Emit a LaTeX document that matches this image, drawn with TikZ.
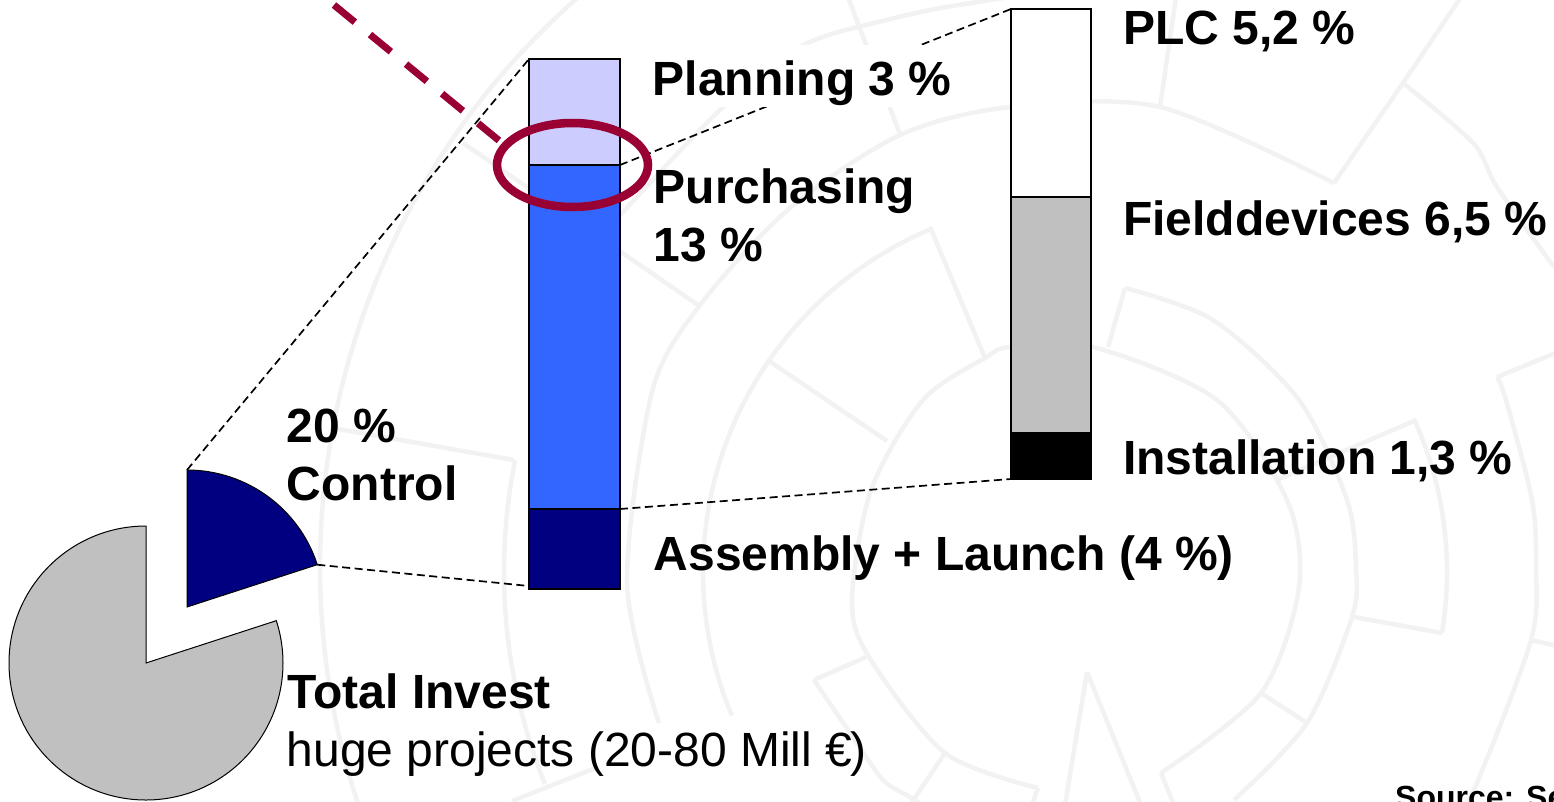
\documentclass[tikz,border=0pt]{standalone}
\usepackage{fontspec}
\setmainfont{Liberation Sans}
\usetikzlibrary{shapes.geometric}
\definecolor{wmgray}{HTML}{F2F2F2}
\definecolor{navybar}{HTML}{000080}
\definecolor{purplebar}{HTML}{CCCCFF}
\definecolor{bluebar}{HTML}{3366FF}
\definecolor{greybar}{HTML}{C0C0C0}
\definecolor{wine}{HTML}{990033}
\tikzset{
  wm/.style={draw=wmgray,line width=4.5pt,line join=miter},
  barbox/.style={draw=black,line width=1.2pt,inner sep=0pt,outer sep=0pt,anchor=north west,minimum width=#1},
  link/.style={draw=black,line width=1.7pt,dash pattern=on 8pt off 4.5pt},
  pieface/.style={draw=black,line width=1pt,line join=miter},
  big/.style={font=\fontsize{48}{57.6}\selectfont\bfseries,anchor=base west,inner sep=0pt},
  plain/.style={font=\fontsize{48}{57.6}\selectfont,anchor=base west,inner sep=0pt},
  srctext/.style={font=\fontsize{32}{38}\selectfont\bfseries,anchor=base west,inner sep=0pt}
}
\newcommand{\wmarc}[5]{\draw[wm] plot[domain=#4:#5,samples=60,smooth] ({#1+#3*cos(\x)},{#2+#3*sin(\x)});}
\begin{document}
\begin{tikzpicture}[x=1pt,y=-1pt]
\useasboundingbox (0,0) rectangle (1554,801);
\clip (0,0) rectangle (1554,801);
% watermark
\wmarc{1078}{567}{758}{161.9}{229}
\wmarc{1075}{572}{571}{158.2}{191.3}
\wmarc{1075}{572}{372}{157.3}{247.2}
\wmarc{1075}{572}{372}{-24}{9.4}
\draw[wm] plot[smooth] coordinates {(659,723)(627,583)(652,392)(700,305)(790,208)(900,135)(1010,107)(1160,107)(1334,183)};
\draw[wm] plot[smooth] coordinates {(1161,773)(1261,693)(1299,587)(1287,500)(1217,400)(1093,347)(1010,347)(985,358)(923,400)(871,490)(852,600)(869,657)(945,753)(1038,788)};
\draw[wm] plot[smooth] coordinates {(1125,288)(1213,320)(1299,400)(1347,500)(1356,567)(1352,617)(1307,723)(1234,800)};
\draw[wm] plot[smooth] coordinates {(1497,377)(1506,400)(1532,500)(1536,567)(1531,640)(1474,790)(1455,815)};
\draw[wm] plot[smooth] coordinates {(600,237)(622,213)(720,110)(800,47)(858,27)};
\draw[wm] plot[smooth] coordinates {(858,27)(930,10)(1010,-3)};
\draw[wm] plot[smooth] coordinates {(1403,83)(1473,143)(1497,187)(1554,267)};
\draw[wm] plot[smooth] coordinates {(814,680)(850,733)(883,780)(910,797)(935,815)};
\draw[wm] (1108,347)--(1125,288);
\draw[wm] (1354,617)--(1442,633);
\draw[wm] (1261,693)--(1307,723);
\draw[wm] (1277,480)--(1416,420);
\draw[wm] (930,227)--(985,358);
\draw[wm] (769,361)--(887,441);
\draw[wm] (463,143)--(698,305);
\draw[wm] (338,429)--(514,460);
\draw[wm] (866,657)--(814,680);
\draw[wm] (512,801)--(598,767);
\draw[wm] (1087,672)--(1065,805);
\draw[wm] (1087,672)--(1141,805);
\draw[wm] (1161,773)--(1174,805);
\draw[wm] (1038,788)--(1032,805);
\draw[wm] (945,753)--(910,805);
\draw[wm] (1531,640)--(1558,646);
\draw[wm] (1497,377)--(1558,352);
\draw[wm] (848,-3)--(901,137);
\draw[wm] (1176,-3)--(1160,107);
\draw[wm] (1334,183)--(1403,83)--(1461,-3);
% pie
\coordinate (navytop) at (187,470);
\coordinate (navytip) at (317.3,564.7);
\draw[pieface,fill=greybar] (146,663) -- (146,526) arc[start angle=90,end angle=378,radius=137pt] -- cycle;
\draw[pieface,fill=navybar] (187,607) -- (navytop) arc[start angle=90,end angle=18,radius=137pt] -- cycle;
% bars
\node[barbox=91pt,minimum height=106pt,fill=purplebar] (planbar) at (529,59) {};
\node[barbox=91pt,minimum height=344pt,fill=bluebar] (purbar) at (529,165) {};
\node[barbox=91pt,minimum height=80pt,fill=navybar] (asmbar) at (529,509) {};
\node[barbox=80pt,minimum height=188pt,fill=white] (plcbar) at (1011,9) {};
\node[barbox=80pt,minimum height=236pt,fill=greybar] (fieldbar) at (1011,197) {};
\node[barbox=80pt,minimum height=46pt,fill=black] (instbar) at (1011,433) {};
% connectors
\draw[link] (navytop) -- (planbar.north west);
\draw[link] (navytip) -- ([yshift=3pt]asmbar.south west);
\draw[link] (planbar.south east) -- (plcbar.north west);
\draw[link] (purbar.south east) -- (instbar.south west);
% labels
\node[big,fill=white,inner xsep=8pt,inner ysep=0pt,text height=50pt,text depth=12pt] (planlabel) at (644.5,95) {Planning 3 \%};
\node[big] (purlabel) at (653.5,203) {Purchasing};
\node[big] (purval) at (653.5,261) {13 \%};
\node[big] (asmlabel) at (653.5,570) {Assembly + Launch (4 \%)};
\node[big] (plclabel) at (1123,44) {PLC 5,2 \%};
\node[big] (fieldlabel) at (1123,235) {Fielddevices 6,5 \%};
\node[big] (instlabel) at (1123,474) {Installation 1,3 \%};
\node[big] (pctlabel) at (286.5,442) {20 \%};
\node[big] (ctrllabel) at (286.5,500) {Control};
\node[big] (totlabel) at (287.5,708) {Total Invest};
\node[plain] (hugelabel) at (286.5,766) {huge projects (20-80 Mill €\kern-2pt)};
\node[srctext] (srclabel) at (1395,808) {Source: Se};
% highlight
\node[ellipse,draw=wine,line width=8.5pt,inner sep=0pt,outer sep=0pt,minimum width=151pt,minimum height=84pt] (ring) at (572.5,165) {};
\coordinate (redstart) at (334,5);
\draw[draw=wine,line width=7pt,dash pattern=on 27pt off 19.6pt] (redstart) -- (ring.164);
\end{tikzpicture}
\end{document}
